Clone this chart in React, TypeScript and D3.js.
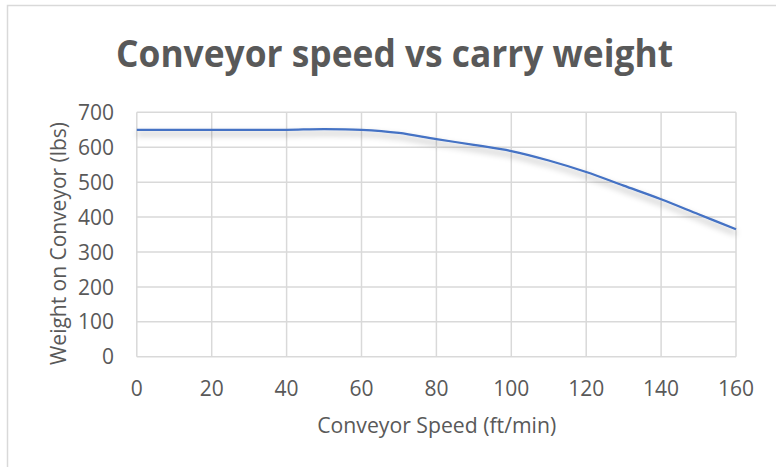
import React from "react";
import * as d3 from "d3";

const speeds = [0, 10, 20, 30, 40, 50, 60, 70, 80, 90, 100, 110, 120, 130, 140, 150, 160];
const weights = [650, 650, 650, 650, 650, 652, 650, 641, 623, 607, 589, 562, 529, 490, 451, 408, 365];
const xTicks = [0, 20, 40, 60, 80, 100, 120, 140, 160];
const yTicks = [0, 100, 200, 300, 400, 500, 600, 700];

const W = 776;
const H = 467;
const left = 136.8;
const right = 736;
const top = 112.3;
const bottom = 356.8;
const textColor = "#595959";
const gridColor = "#D9D9D9";
const font = "'Open Sans', sans-serif";

export default function App() {
  const x = d3.scaleLinear().domain([0, 160]).range([left, right]);
  const y = d3.scaleLinear().domain([0, 700]).range([bottom, top]);
  const pts: [number, number][] = speeds.map((s, i) => [s, weights[i]]);
  const line = d3
    .line<[number, number]>()
    .x((d) => x(d[0]))
    .y((d) => y(d[1]))
    .curve(d3.curveCatmullRom.alpha(0.5));

  return (
    <svg
      width={W}
      height={H}
      style={{ position: "absolute", left: 0, top: 0, background: "#fff" }}
    >
      <defs>
        <filter id="sh" x="-10%" y="-50%" width="120%" height="200%">
          <feDropShadow dx="0" dy="4" stdDeviation="3" floodColor="#000" floodOpacity="0.35" />
        </filter>
      </defs>
      <rect x={7.5} y={5.5} width={W + 10} height={H + 10} fill="#fff" stroke={gridColor} strokeWidth={1.5} />
      <text
        x={394.5}
        y={67}
        textAnchor="middle"
        fontFamily={font}
        fontWeight="bold"
        fontSize={38}
        fill={textColor}
        textLength={557}
        lengthAdjust="spacingAndGlyphs"
      >
        Conveyor speed vs carry weight
      </text>
      {yTicks.map((t) => (
        <line key={"gy" + t} x1={left} x2={right} y1={y(t)} y2={y(t)} stroke={gridColor} strokeWidth={1.5} />
      ))}
      {xTicks.map((t) => (
        <line key={"gx" + t} x1={x(t)} x2={x(t)} y1={top} y2={bottom} stroke={gridColor} strokeWidth={1.5} />
      ))}
      <path d={line(pts) || ""} fill="none" stroke="#4472C4" strokeWidth={2.25} filter="url(#sh)" />
      {yTicks.map((t) => (
        <text
          key={"ly" + t}
          x={114}
          y={y(t)}
          dy="0.36em"
          textAnchor="end"
          fontFamily={font}
          fontSize={21}
          fill={textColor}
        >
          {t}
        </text>
      ))}
      {xTicks.map((t) => (
        <text
          key={"lx" + t}
          x={x(t)}
          y={395.7}
          textAnchor="middle"
          fontFamily={font}
          fontSize={21}
          fill={textColor}
        >
          {t}
        </text>
      ))}
      <text
        x={436.7}
        y={432.7}
        textAnchor="middle"
        fontFamily={font}
        fontSize={22}
        fill={textColor}
        textLength={239}
        lengthAdjust="spacingAndGlyphs"
      >
        Conveyor Speed (ft/min)
      </text>
      <text
        transform={`translate(66,243.5) rotate(-90)`}
        textAnchor="middle"
        fontFamily={font}
        fontSize={22}
        fill={textColor}
        textLength={243}
        lengthAdjust="spacingAndGlyphs"
      >
        Weight on Conveyor (lbs)
      </text>
    </svg>
  );
}
